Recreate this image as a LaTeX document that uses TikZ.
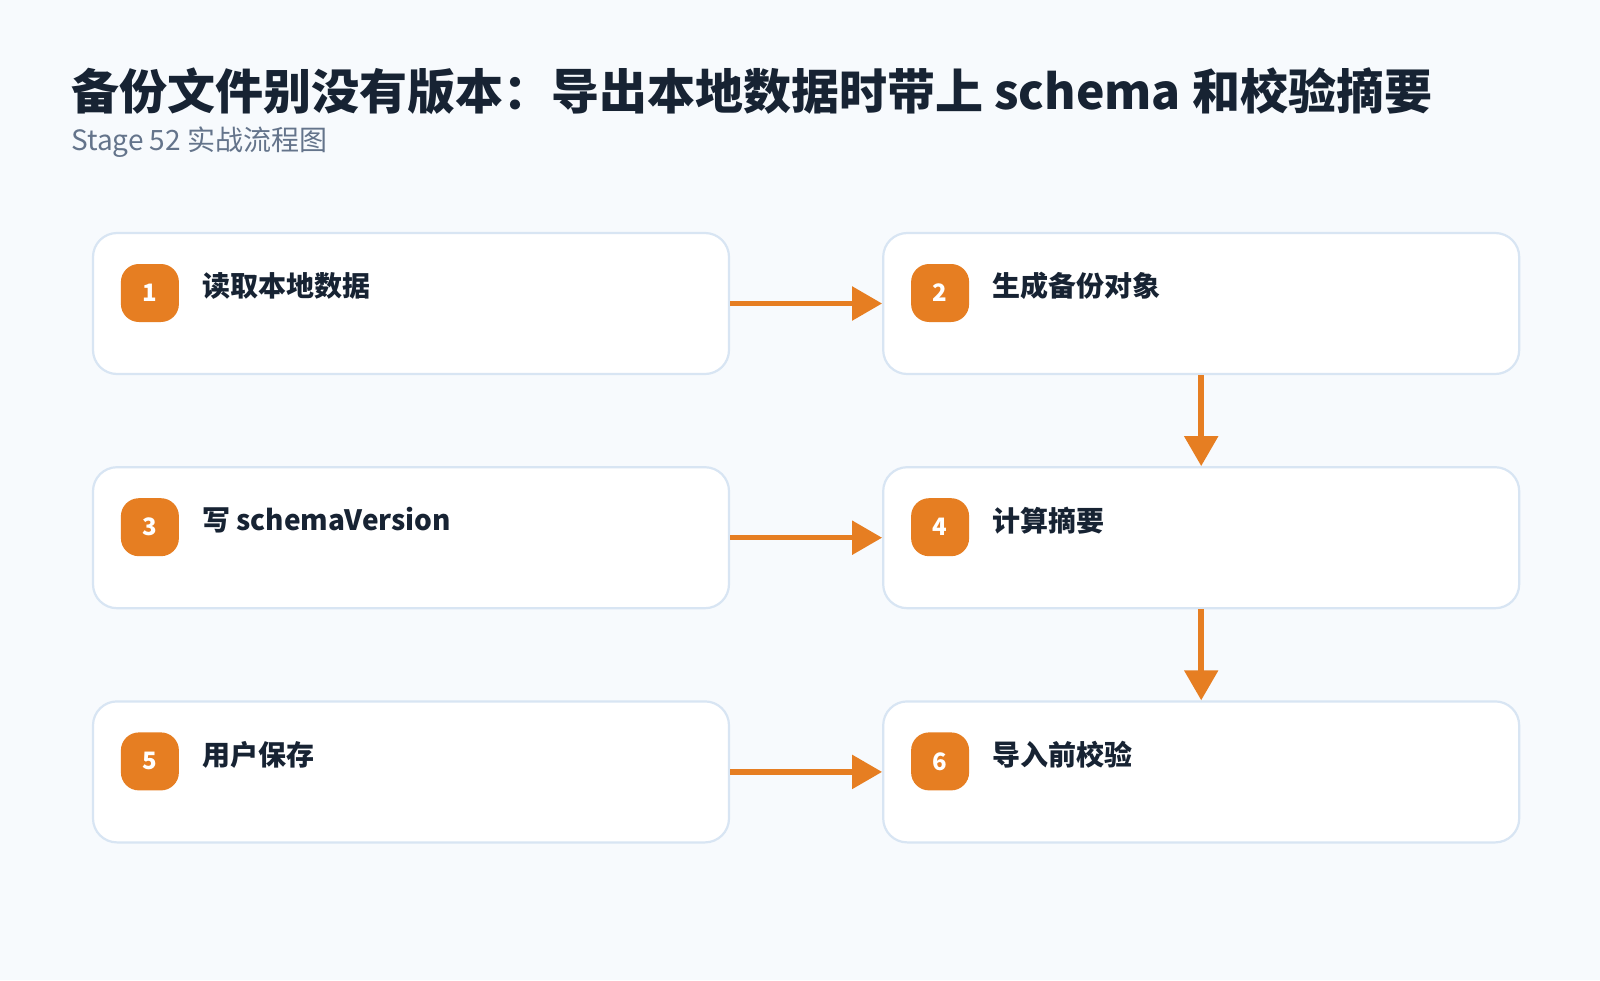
\documentclass[tikz,border=0pt]{standalone}
\usepackage{fontspec}
\setmainfont{Noto Sans CJK SC}
\usepackage{tikz}
\usetikzlibrary{arrows.meta,positioning}
\definecolor{PageBg}{HTML}{F7FAFD}
\definecolor{BoxLine}{HTML}{D8E5F3}
\definecolor{StepOrange}{HTML}{E67E22}
\definecolor{InkColor}{HTML}{172333}
\definecolor{SubColor}{HTML}{64748B}

\begin{document}
\begin{tikzpicture}[x=1pt,y=-1pt,
  stepbox/.style={draw=BoxLine,line width=2.2pt,fill=white,rounded corners=24pt,minimum width=636pt,minimum height=141pt,inner sep=0pt},
  badge/.style={fill=StepOrange,rounded corners=18pt,minimum size=58pt,inner sep=0pt,text=white,font=\fontsize{24}{28}\selectfont\bfseries},
  steptext/.style={anchor=west,text=InkColor,font=\fontsize{28}{32}\selectfont\bfseries,inner sep=0pt},
  flow/.style={StepOrange,line width=5.5pt,-{Triangle[length=30pt,width=33pt]}}]
  \fill[PageBg] (0,0) rectangle (1600,980);

  % Title
  \node[anchor=west,inner sep=0pt,text=InkColor,font=\fontsize{48}{54}\selectfont\bfseries] (title) at (71,91)
    {备份文件别没有版本：导出本地数据时带上 schema 和校验摘要};
  \node[anchor=west,inner sep=0pt,text=SubColor,font=\fontsize{28}{32}\selectfont] (sub) at (71,142)
    {Stage 52 实战流程图};

  % Steps
  \node[stepbox] (s1) at (411,303.5) {};
  \node[stepbox,right=152pt of s1] (s2) {};
  \node[stepbox,below=91pt of s1] (s3) {};
  \node[stepbox,right=152pt of s3] (s4) {};
  \node[stepbox,below=91pt of s3] (s5) {};
  \node[stepbox,right=152pt of s5] (s6) {};
  \foreach \n/\lbl in {1/读取本地数据,2/生成备份对象,3/写 schemaVersion,4/计算摘要,5/用户保存,6/导入前校验}{
    \node[badge] (b\n) at ([xshift=58pt,yshift=10.5pt]s\n.west) {\n};
    \node[steptext] (t\n) at ([xshift=110pt,yshift=17.5pt]s\n.west) {\lbl};
  }

  % Arrows
  \draw[flow] (s1) -- (s2);
  \draw[flow] (s2) -- (s4);
  \draw[flow] (s3) -- (s4);
  \draw[flow] (s4) -- (s6);
  \draw[flow] (s5) -- (s6);
\end{tikzpicture}
\end{document}
